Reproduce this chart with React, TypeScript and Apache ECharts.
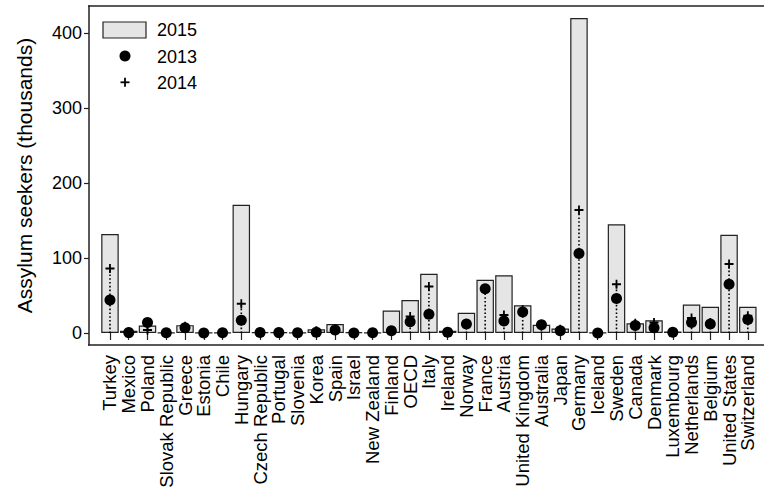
import React, { useEffect, useRef } from "react";
import * as echarts from "echarts";

const categories = [
  "Turkey", "Mexico", "Poland", "Slovak Republic", "Greece", "Estonia", "Chile",
  "Hungary", "Czech Republic", "Portugal", "Slovenia", "Korea", "Spain", "Israel",
  "New Zealand", "Finland", "OECD", "Italy", "Ireland", "Norway", "France", "Austria",
  "United Kingdom", "Australia", "Japan", "Germany", "Iceland", "Sweden", "Canada",
  "Denmark", "Luxembourg", "Netherlands", "Belgium", "United States", "Switzerland",
];

const values2015 = [
  132, 3, 10, 0.3, 10.5, 0.2, 0.6, 171, 1.2, 0.9, 0.3, 5, 12, 1, 0.4, 30, 44, 79, 3,
  27, 71, 77, 37, 11, 6, 420, 0.4, 145, 13, 17, 2, 38, 35, 131, 35,
];

const values2013 = [
  44, 0.5, 14, 0.4, 7, 0.1, 0.2, 17, 0.7, 0.5, 0.3, 1, 4, 0.1, 0.3, 3, 15, 25, 1,
  12, 59, 16, 28, 11, 3, 106, 0.1, 46, 10, 7, 1, 14, 12, 65, 18,
];

const values2014 = [
  86, 1, 4, 0.3, 9, 0.1, 0.3, 39, 0.9, 0.4, 0.4, 2.9, 5.6, 0.5, 0.3, 3.5, 22, 62, 1.4,
  11, 59, 24, 31, 8.9, 5, 164, 0.2, 65, 13, 14, 1, 20, 14, 92, 23,
];

const yTicks = [0, 100, 200, 300, 400];

const FONT = "'Liberation Sans', Arial, Helvetica, sans-serif";
const PLUS = "path://M4,0H6V4H10V6H6V10H4V6H0V4H4Z";

export default function App() {
  const ref = useRef<HTMLDivElement>(null);

  useEffect(() => {
    if (!ref.current) return;
    const chart = echarts.init(ref.current, null, { renderer: "svg" });
    const stems = categories.map((_, i) => [i, Math.max(values2013[i], values2014[i])]);

    chart.setOption({
      animation: false,
      backgroundColor: "#fff",
      grid: { left: 100.6, right: 6.8, top: 6, bottom: 146, containLabel: false, outerBoundsMode: "none" },
      xAxis: {
        type: "category",
        data: categories,
        boundaryGap: true,
        axisLine: { show: false },
        axisTick: {
          show: true,
          alignWithLabel: true,
          interval: 0,
          length: 7,
          lineStyle: { color: "#222", width: 1.2 },
        },
        axisLabel: {
          interval: 0,
          rotate: 90,
          margin: 10,
          color: "#000",
          fontSize: 18.5,
          fontFamily: FONT,
        },
      },
      yAxis: {
        type: "value",
        min: -16,
        max: 436,
        offset: 11.6,
        splitLine: { show: false },
        axisLine: { show: true, lineStyle: { color: "#222", width: 1.5 } },
        axisTick: {
          show: true,
          length: 5,
          customValues: yTicks,
          lineStyle: { color: "#222", width: 1.2 },
        },
        axisLabel: {
          customValues: yTicks,
          margin: 7,
          color: "#000",
          fontSize: 18,
          fontFamily: FONT,
        },
        name: "Assylum seekers (thousands)",
        nameLocation: "middle",
        nameRotate: 90,
        nameGap: 54,
        nameTextStyle: { color: "#000", fontSize: 21, fontFamily: FONT },
      },
      series: [
        {
          name: "2015",
          type: "bar",
          data: values2015,
          barWidth: 17.5,
          clip: false,
          itemStyle: { color: "#e5e5e5", borderColor: "#222", borderWidth: 1.2 },
          z: 2,
        },
        {
          name: "stem",
          type: "custom",
          data: stems,
          z: 3,
          renderItem: (params: any, api: any) => {
            const i = api.value(0);
            const top = api.value(1);
            const p0 = api.coord([i, 0]);
            const p1 = api.coord([i, top]);
            return {
              type: "line",
              shape: { x1: p0[0], y1: p0[1], x2: p1[0], y2: p1[1] },
              style: { stroke: "#000", lineWidth: 1.6, lineDash: [1.6, 2.2] },
            };
          },
        },
        {
          name: "2013",
          type: "scatter",
          data: values2013,
          symbol: "circle",
          symbolSize: 11,
          itemStyle: { color: "#000", opacity: 1 },
          z: 4,
        },
        {
          name: "2014",
          type: "scatter",
          data: values2014,
          symbol: PLUS,
          symbolSize: 9,
          itemStyle: { color: "#000", opacity: 1 },
          z: 5,
        },
      ],
      graphic: [
        { type: "line", shape: { x1: 88, y1: 6, x2: 764, y2: 6 }, style: { stroke: "#222", lineWidth: 1.5 }, z: 10 },
        { type: "line", shape: { x1: 88, y1: 345, x2: 764, y2: 345 }, style: { stroke: "#222", lineWidth: 1.5 }, z: 10 },
        { type: "rect", shape: { x: 103, y: 22, width: 43, height: 16 }, style: { fill: "#e5e5e5", stroke: "#222", lineWidth: 1.2 }, z: 10 },
        { type: "text", x: 157, y: 30, style: { text: "2015", fill: "#000", fontSize: 18, fontFamily: FONT, verticalAlign: "middle" }, z: 10 },
        { type: "circle", shape: { cx: 125, cy: 56, r: 5.5 }, style: { fill: "#000" }, z: 10 },
        { type: "text", x: 157, y: 56.5, style: { text: "2013", fill: "#000", fontSize: 18, fontFamily: FONT, verticalAlign: "middle" }, z: 10 },
        { type: "line", shape: { x1: 120.5, y1: 82.3, x2: 129.5, y2: 82.3 }, style: { stroke: "#000", lineWidth: 1.8 }, z: 10 },
        { type: "line", shape: { x1: 125, y1: 77.8, x2: 125, y2: 86.8 }, style: { stroke: "#000", lineWidth: 1.8 }, z: 10 },
        { type: "text", x: 157, y: 82.5, style: { text: "2014", fill: "#000", fontSize: 18, fontFamily: FONT, verticalAlign: "middle" }, z: 10 },
      ],
    });

    return () => chart.dispose();
  }, []);

  return <div ref={ref} style={{ width: 764, height: 491, position: "absolute", left: 0, top: 0 }} />;
}
